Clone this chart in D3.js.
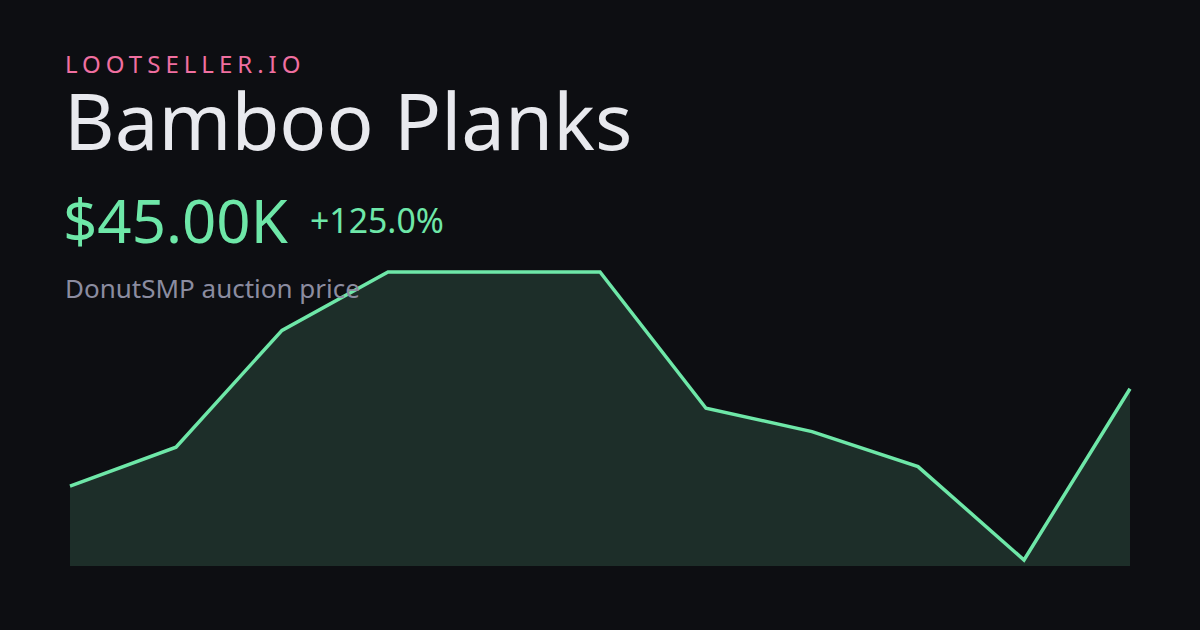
<!DOCTYPE html>
<html>
<head>
<meta charset="utf-8">
<script src="https://cdn.jsdelivr.net/npm/d3@7"></script>
<style>
  html, body { margin: 0; padding: 0; background: #0d0e12; }
  svg { display: block; }
</style>
</head>
<body>
<svg id="chart" width="1200" height="630"></svg>
<script>
const brand = "LOOTSELLER.IO";
const itemName = "Bamboo Planks";
const priceLabel = "$45.00K";
const changeLabel = "+125.0%";
const subtitle = "DonutSMP auction price";
const periods = [0, 1, 2, 3, 4, 5, 6, 7, 8, 9, 10];
const prices = [20, 30, 60, 75, 75, 75, 40, 34, 25, 1, 45];

const svg = d3.select("#chart");
const W = 1200, H = 630;

svg.append("rect").attr("width", W).attr("height", H).attr("fill", "#0d0e12");

const x = d3.scaleLinear().domain(d3.extent(periods)).range([70, 1130]);
const y = d3.scaleLinear().domain(d3.extent(prices)).range([560, 272]);
const baseY = 566;

const data = periods.map((p, i) => ({ p, v: prices[i] }));

svg.append("path")
  .datum(data)
  .attr("fill", "#1d2e29")
  .attr("d", d3.area().x(d => x(d.p)).y0(baseY).y1(d => y(d.v)));

svg.append("path")
  .datum(data)
  .attr("fill", "none")
  .attr("stroke", "#6ee7a8")
  .attr("stroke-width", 3.5)
  .attr("stroke-linejoin", "miter")
  .attr("d", d3.line().x(d => x(d.p)).y(d => y(d.v)));

const font = "'Noto Sans', 'Open Sans', sans-serif";

svg.append("text").attr("x", 65).attr("y", 73)
  .attr("font-family", font).attr("font-size", 24).attr("letter-spacing", 5)
  .attr("fill", "#f06fa0").text(brand);

svg.append("text").attr("x", 64).attr("y", 150)
  .attr("font-family", font).attr("font-size", 78)
  .attr("fill", "#e8e9ee").text(itemName);

svg.append("text").attr("x", 63).attr("y", 243)
  .attr("font-family", font).attr("font-size", 60)
  .attr("fill", "#6ee7a8").text(priceLabel);

svg.append("text").attr("x", 310).attr("y", 233)
  .attr("font-family", font).attr("font-size", 33.8)
  .attr("fill", "#6ee7a8").text(changeLabel);

svg.append("text").attr("x", 65).attr("y", 298)
  .attr("font-family", font).attr("font-size", 26)
  .attr("fill", "#8b8ca0").text(subtitle);
</script>
</body>
</html>
